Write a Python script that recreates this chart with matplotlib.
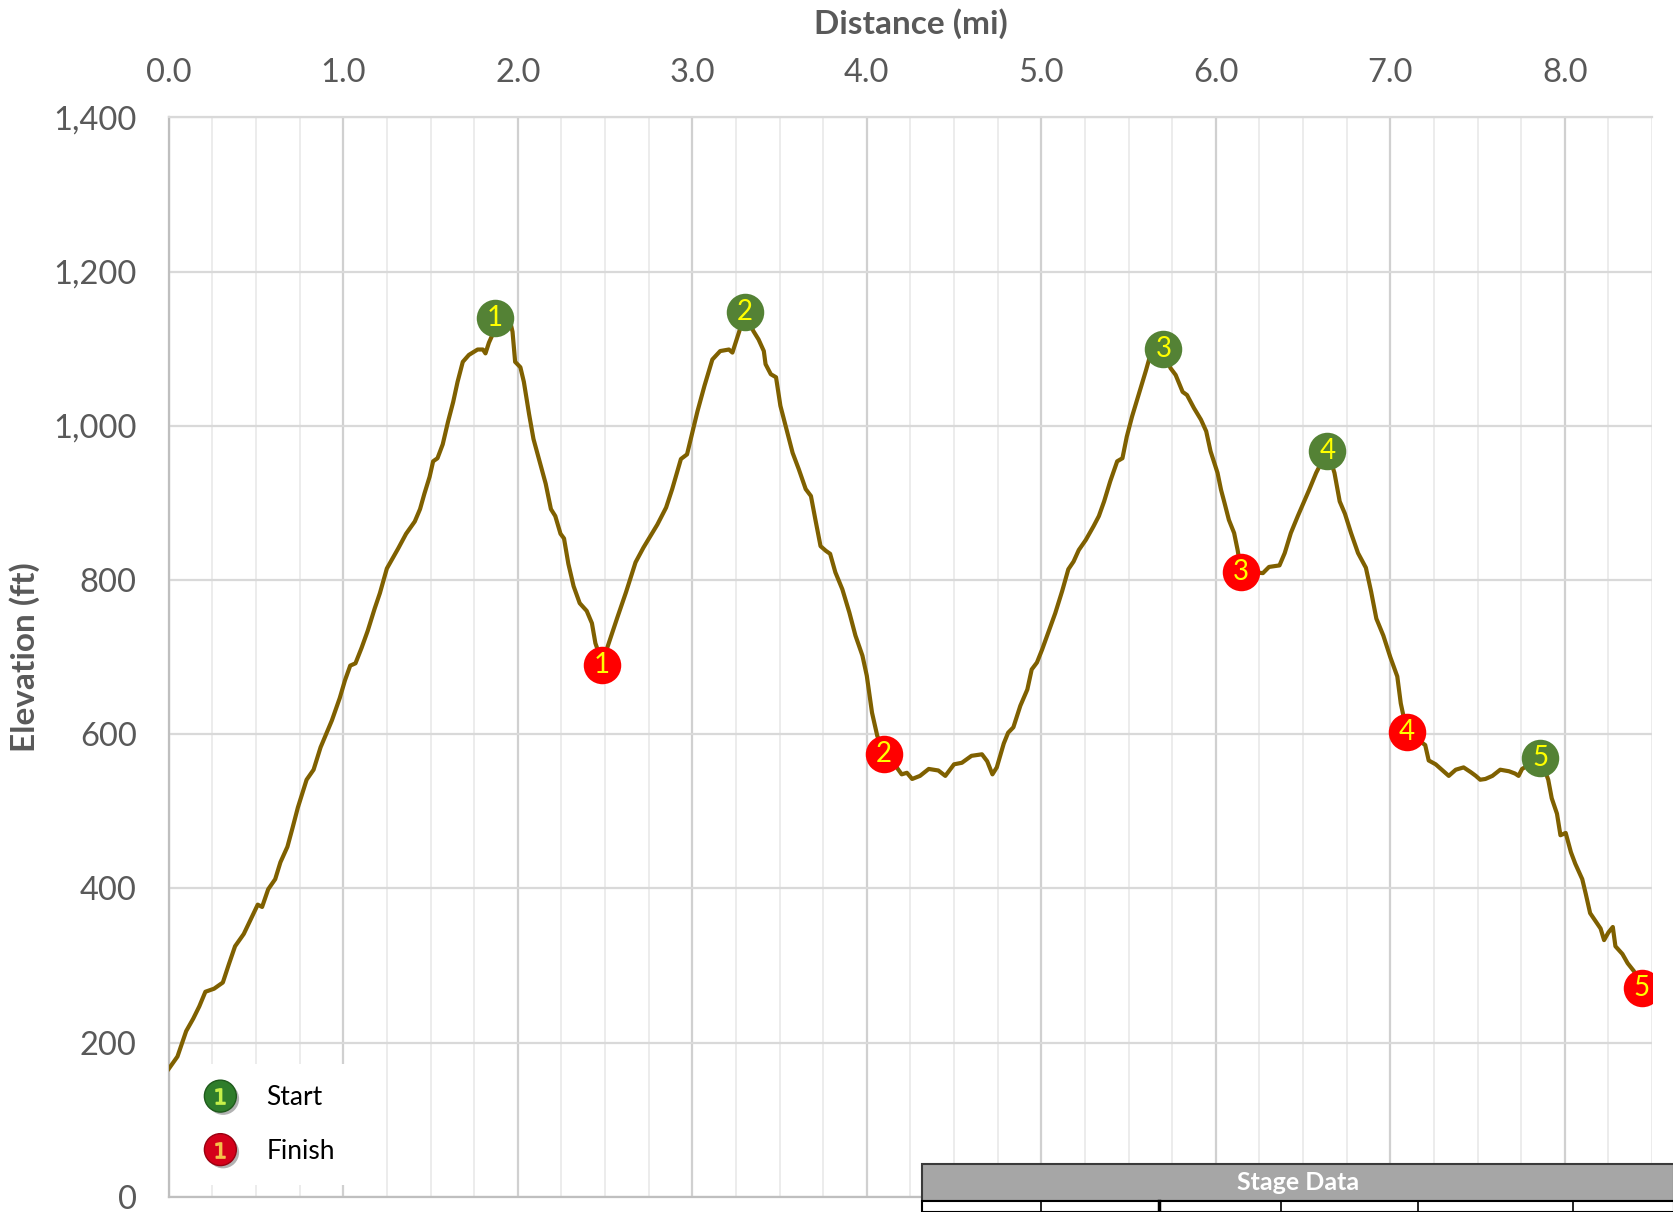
import matplotlib
matplotlib.use("Agg")
import matplotlib.pyplot as plt
import matplotlib.patheffects as pe
from matplotlib.lines import Line2D
from matplotlib.legend_handler import HandlerTuple
from matplotlib.patches import Rectangle
from matplotlib.ticker import MultipleLocator, FuncFormatter

plt.rcParams['font.family'] = ['Lato', 'DejaVu Sans']

# elevation profile
dist_mi = [
    0.0, 0.05, 0.10, 0.14, 0.175, 0.21, 0.26, 0.31, 0.345, 0.38, 0.43, 0.47, 0.51,
    0.535, 0.57, 0.61, 0.64, 0.68, 0.71, 0.74, 0.79, 0.83, 0.87, 0.905, 0.935, 0.98,
    1.01, 1.04, 1.07, 1.105, 1.14, 1.18, 1.21, 1.25, 1.275, 1.315, 1.36, 1.41, 1.44,
    1.465, 1.495, 1.515, 1.54, 1.57, 1.60, 1.63, 1.655, 1.685, 1.72, 1.77, 1.80,
    1.815, 1.835, 1.855, 1.87,
    1.93, 1.96, 1.97, 1.985, 2.015, 2.035, 2.065, 2.09, 2.13, 2.16, 2.19, 2.215,
    2.245, 2.265, 2.29, 2.32, 2.355, 2.395, 2.425, 2.445, 2.465, 2.48,
    2.52, 2.57, 2.62, 2.675, 2.72, 2.76, 2.80, 2.85, 2.885, 2.935, 2.97, 3.0, 3.03,
    3.07, 3.115, 3.16, 3.21, 3.23, 3.27, 3.30,
    3.35, 3.38, 3.41, 3.42, 3.45, 3.48, 3.505, 3.545, 3.575, 3.61, 3.65, 3.68, 3.705,
    3.735, 3.765, 3.79, 3.82, 3.86, 3.90, 3.935, 3.975, 4.0, 4.03, 4.06, 4.10,
    4.165, 4.20, 4.23, 4.26, 4.305, 4.355, 4.41, 4.45, 4.50, 4.545, 4.60, 4.66, 4.69,
    4.72, 4.745, 4.785, 4.81, 4.84, 4.88, 4.92, 4.945, 4.975, 5.005, 5.04, 5.08, 5.12,
    5.155, 5.185, 5.215, 5.255, 5.30, 5.33, 5.36, 5.395, 5.435, 5.465, 5.49, 5.52,
    5.56, 5.60, 5.62, 5.70,
    5.74, 5.77, 5.81, 5.835, 5.875, 5.915, 5.945, 5.97, 6.01, 6.03, 6.05, 6.075,
    6.105, 6.125, 6.145, 6.27, 6.305, 6.365, 6.395, 6.43, 6.47, 6.51, 6.535, 6.575,
    6.64,
    6.68, 6.71, 6.74, 6.775, 6.815, 6.86, 6.89, 6.92, 6.96, 7.0, 7.04, 7.06, 7.095,
    7.20, 7.22, 7.26, 7.295, 7.335, 7.375, 7.42, 7.46, 7.49, 7.515, 7.545, 7.585,
    7.63, 7.68, 7.715, 7.735, 7.755, 7.86,
    7.905, 7.925, 7.955, 7.975, 8.005, 8.035, 8.06, 8.10, 8.12, 8.145, 8.175, 8.205,
    8.225, 8.25, 8.275, 8.29, 8.33, 8.36, 8.395, 8.42,
]
elev_ft = [
    166, 182, 215, 231, 247, 266, 270, 278, 302, 325, 341, 360, 379,
    376, 399, 412, 434, 454, 479, 505, 541, 554, 583, 602, 618, 647,
    670, 689, 692, 712, 734, 763, 783, 815, 825, 841, 860, 876, 892,
    912, 934, 954, 958, 976, 1005, 1031, 1057, 1083, 1092, 1099, 1099,
    1094, 1108, 1118, 1135,
    1142, 1132, 1122, 1083, 1076, 1057, 1015, 983, 950, 925, 892, 883,
    860, 854, 821, 792, 770, 760, 744, 718, 705, 690,
    717, 751, 784, 823, 842, 857, 872, 894, 918, 957, 963, 991, 1019,
    1052, 1086, 1097, 1099, 1095, 1123, 1146,
    1123, 1112, 1097, 1080, 1067, 1063, 1026, 991, 965, 944, 918, 909, 879,
    844, 838, 834, 810, 788, 758, 728, 702, 676, 628, 598, 575,
    559, 548, 550, 542, 546, 555, 553, 546, 561, 563, 572, 574, 565,
    548, 557, 588, 602, 609, 637, 658, 684, 693, 710, 732, 757, 786,
    814, 824, 839, 852, 870, 883, 902, 928, 954, 958, 986, 1012,
    1042, 1072, 1088, 1100,
    1075, 1066, 1044, 1040, 1023, 1008, 993, 967, 939, 917, 900, 878,
    861, 839, 811, 809, 817, 819, 835, 861, 883, 904, 917, 939,
    968,
    939, 902, 886, 861, 835, 816, 785, 750, 728, 700, 675, 640, 603,
    586, 566, 561, 554, 546, 554, 557, 551, 546, 541, 542, 546,
    554, 552, 549, 546, 555, 569,
    541, 517, 497, 469, 472, 447, 432, 412, 393, 368, 358, 348,
    333, 343, 350, 325, 315, 303, 293, 283,
]
assert len(dist_mi) == len(elev_ft)

start_x = [1.87, 3.30, 5.70, 6.64, 7.86]
start_y = [1140, 1148, 1100, 968, 569]
finish_x = [2.48, 4.10, 6.145, 7.095, 8.44]
finish_y = [690, 575, 811, 603, 271]
stage_labels = ['1', '2', '3', '4', '5']

x_ticks = [0, 1, 2, 3, 4, 5, 6, 7, 8]
y_ticks = [0, 200, 400, 600, 800, 1000, 1200, 1400]

grey_txt = '#595959'

fig = plt.figure(figsize=(16.74, 12.12), dpi=100)
ax = fig.add_axes([0.1008, 0.0125, 0.8861, 0.8906])

ax.plot(dist_mi, elev_ft, color='#7f6000', lw=3.0, zorder=3, solid_joinstyle='round')

ax.plot(start_x, start_y, 'o', ms=27, color='#548235', mec='none', zorder=4)
ax.plot(finish_x, finish_y, 'o', ms=27, color='#ff0000', mec='none', zorder=4)
for lab, x, y in zip(stage_labels, start_x, start_y):
    ax.text(x, y, lab, color='#ffff00', fontsize=20, ha='center', va='center', zorder=5)
for lab, x, y in zip(stage_labels, finish_x, finish_y):
    ax.text(x, y, lab, color='#ffff00', fontsize=20, ha='center', va='center', zorder=5)

ax.set_xlim(0, 8.5)
ax.set_ylim(0, 1400)
ax.xaxis.tick_top()
ax.xaxis.set_label_position('top')
ax.set_xticks(x_ticks)
ax.set_xticklabels(['%.1f' % t for t in x_ticks])
ax.xaxis.set_minor_locator(MultipleLocator(0.25))
ax.set_yticks(y_ticks)
ax.yaxis.set_major_formatter(FuncFormatter(lambda v, p: '{:,.0f}'.format(v)))

ax.grid(which='major', axis='x', color='#d0d0d0', lw=1.6, zorder=0)
ax.grid(which='minor', axis='x', color='#ebebeb', lw=1.3, zorder=0)
ax.grid(which='major', axis='y', color='#d9d9d9', lw=1.6, zorder=0)
ax.set_axisbelow(True)
ax.tick_params(which='both', length=0)
ax.tick_params(axis='x', pad=21, labelsize=23.5, labelcolor=grey_txt)
ax.tick_params(axis='y', pad=23, labelsize=23.5, labelcolor=grey_txt)

for s in ['left', 'bottom']:
    ax.spines[s].set_color('#bfbfbf')
    ax.spines[s].set_linewidth(1.6)
ax.spines['top'].set_color('#d9d9d9')
ax.spines['top'].set_linewidth(1.6)
ax.spines['right'].set_visible(False)

ax.set_xlabel('Distance (mi)', fontsize=24, fontweight='bold', color=grey_txt)
ax.set_ylabel('Elevation (ft)', fontsize=24, fontweight='bold', color=grey_txt)
ax.xaxis.set_label_coords(0.5, 1.0773)
ax.yaxis.set_label_coords(-0.0868, 0.5)

# legend with shaded balls
shadow = [pe.withSimplePatchShadow(offset=(2, -2), shadow_rgbFace='#555555', alpha=0.45)]
h_start = (Line2D([], [], marker='o', ms=23, ls='none', color='#2f7d2b', mec='#1f5a1c',
                  path_effects=shadow),
           Line2D([], [], marker='$\\mathit{1}$', ms=11, ls='none', color='#c6f04a'))
h_finish = (Line2D([], [], marker='o', ms=23, ls='none', color='#d4001a', mec='#9a0010',
                   path_effects=shadow),
            Line2D([], [], marker='$\\mathit{1}$', ms=11, ls='none', color='#f5c04a'))
leg = ax.legend([h_start, h_finish], ['Start', 'Finish'],
                handler_map={tuple: HandlerTuple()},
                loc='lower left', bbox_to_anchor=(0.009, 0.011), borderaxespad=0,
                fontsize=19, handlelength=1.3, handletextpad=1.1, labelspacing=1.08,
                borderpad=0.8, frameon=True, fancybox=False, framealpha=1)
leg.get_frame().set_edgecolor('none')
leg.get_frame().set_facecolor('white')
leg.set_zorder(6)

# top of the "Stage Data" table peeking in at the bottom
W, H = 1674.0, 1212.0
tx0 = 922 / W
fig.add_artist(Rectangle((tx0, 1 - 1201 / H), 1 - tx0, 37 / H, transform=fig.transFigure,
                         facecolor='#a6a6a6', edgecolor='#3a3a3a', lw=1.5, zorder=10))
fig.text((922 + 1674) / 2 / W, 1 - 1183 / H, 'Stage Data', color='white', fontsize=18,
         fontweight='bold', ha='center', va='center', zorder=11)
fig.add_artist(Rectangle((tx0, 0), 1 - tx0, 1 - 1201 / H, transform=fig.transFigure,
                         facecolor='white', edgecolor='black', lw=1.5, zorder=10))
for xd, w in zip([1041, 1159, 1281, 1418, 1573], [1.2, 2.5, 1.2, 1.2, 1.2]):
    fig.add_artist(Line2D([xd / W, xd / W], [0, 1 - 1201 / H], transform=fig.transFigure,
                          color='black', lw=w, zorder=11))

fig.savefig('out.png', dpi=100)
